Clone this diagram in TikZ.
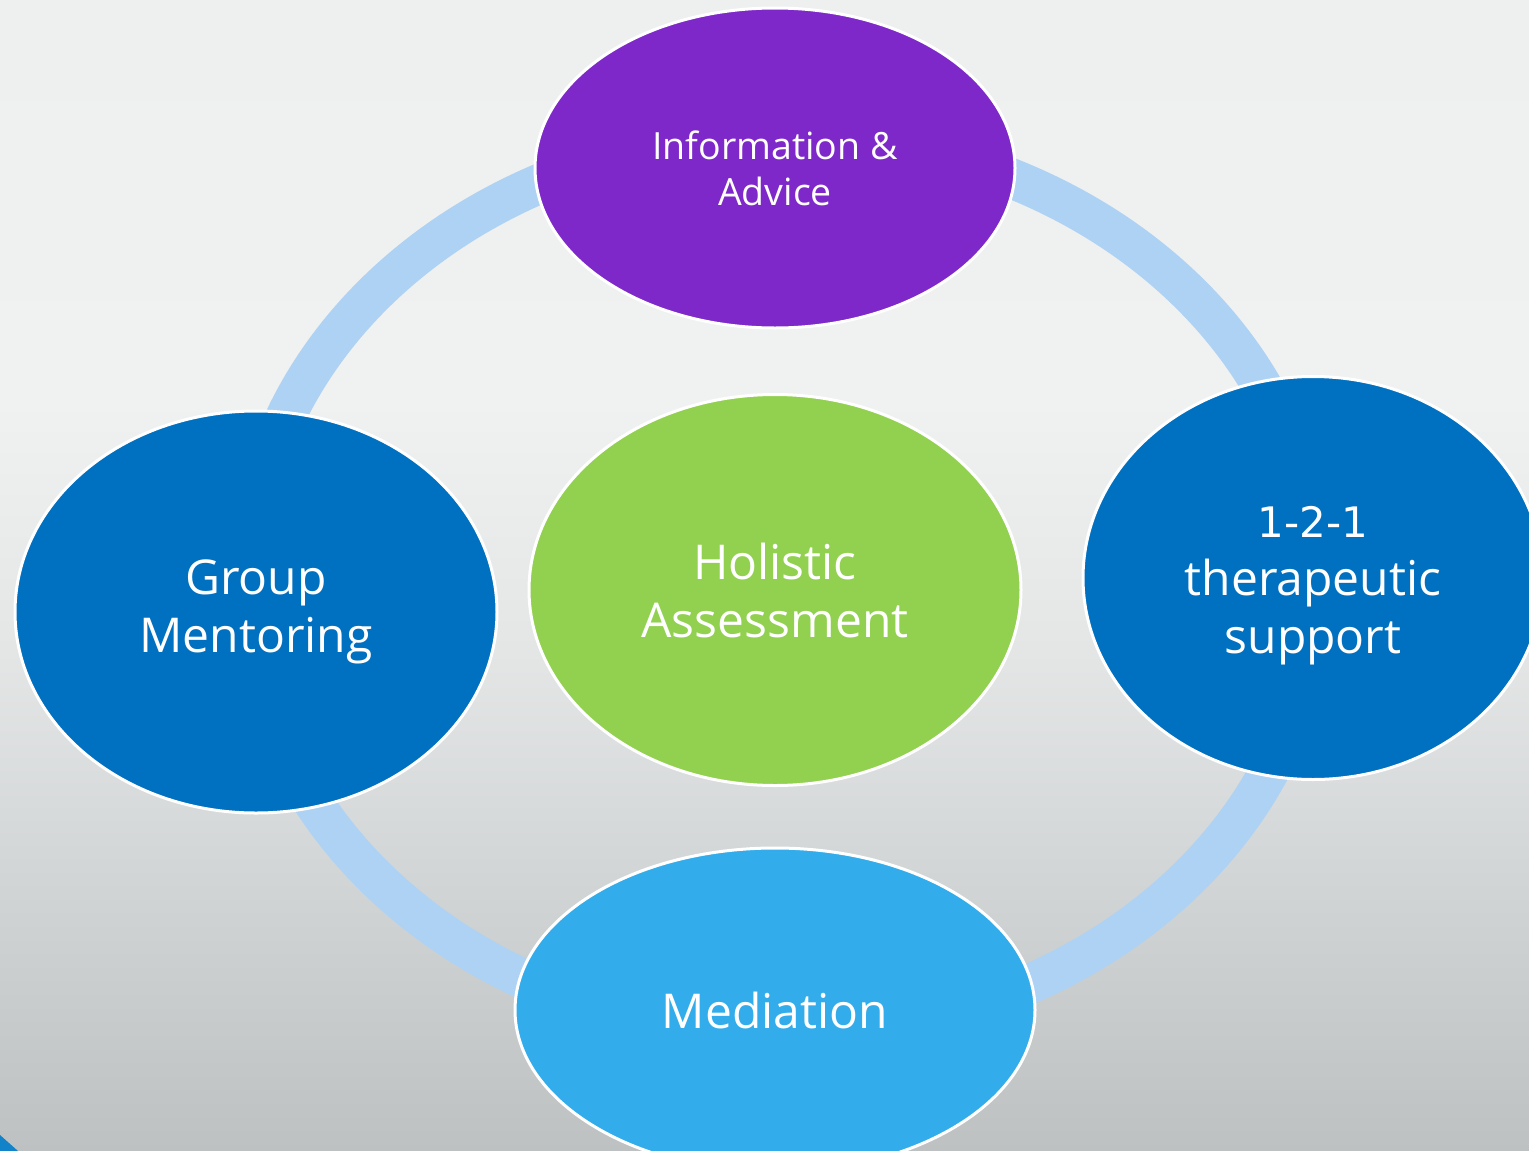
\documentclass[tikz,border=0pt]{standalone}
\usepackage{fontspec}
\setmainfont{Open Sans}
\newfontfamily\digitfont{DejaVu Sans}
\usetikzlibrary{shapes.geometric}
\definecolor{ringblue}{HTML}{AED2F3}
\definecolor{purp}{HTML}{7E28C9}
\definecolor{darkblue}{HTML}{0070C0}
\definecolor{lgreen}{HTML}{92D050}
\definecolor{skyblue}{HTML}{32ACEA}
\definecolor{cornerblue}{HTML}{1283C9}
\pgfdeclareverticalshading{bgshade}{100bp}{%
  color(0bp)=(rgb,255:red,189;green,193;blue,194);
  color(25bp)=(rgb,255:red,189;green,193;blue,194);
  color(38bp)=(rgb,255:red,212;green,215;blue,216);
  color(46.7bp)=(rgb,255:red,228;green,230;blue,230);
  color(57.6bp)=(rgb,255:red,240;green,241;blue,241);
  color(75bp)=(rgb,255:red,238;green,239;blue,239);
  color(100bp)=(rgb,255:red,238;green,239;blue,239)}
\tikzset{
  bubble/.style={ellipse, draw=white, line width=3pt, inner sep=0pt, text=white, align=center},
  bigtext/.style={font=\fontsize{48}{58}\selectfont},
  smalltext/.style={font=\fontsize{37.5}{46}\selectfont},
  ringline/.style={draw=ringblue, line width=40pt}
}
\begin{document}
\begin{tikzpicture}[x=1pt,y=-1pt]
\useasboundingbox (0,0) rectangle (1529,1151);
\clip (0,0) rectangle (1529,1151);
\shade[shading=bgshade] (0,0) rectangle (1529,1151);
\fill[cornerblue] (0,1135) -- (18,1151) -- (0,1151) -- cycle;
\coordinate (ringc) at (782,585);
\draw[ringline] (ringc) ellipse [x radius=535, y radius=450];
\node[bubble, fill=purp, minimum width=480pt, minimum height=320pt, smalltext] (info) at (775,168) {Information \&\\Advice};
\node[bubble, fill=darkblue, minimum width=482pt, minimum height=402pt, bigtext] (group) at (256,612) {Group\\Mentoring};
\node[bubble, fill=lgreen, minimum width=492pt, minimum height=391pt, bigtext] (holistic) at (775,590) {Holistic\\Assessment};
\node[bubble, fill=darkblue, minimum width=460pt, minimum height=403pt] (therapy) at (1313,578) {};
\node[text=white, align=center, bigtext, inner sep=0pt] (therapytext) at (1313,586) {{\digitfont\fontsize{42}{58}\selectfont 1-2-1}\\therapeutic\\support};
\node[bubble, fill=skyblue, minimum width=520pt, minimum height=324pt, bigtext] (mediation) at (775,1010) {Mediation};
\end{tikzpicture}
\end{document}
